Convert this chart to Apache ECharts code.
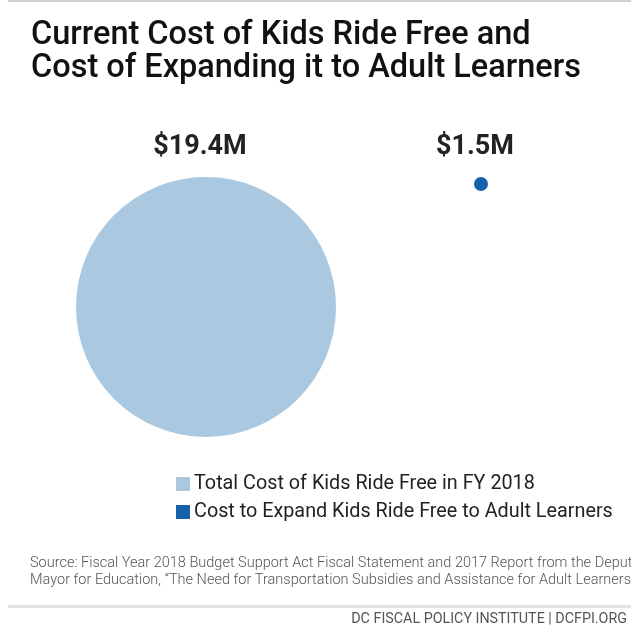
<!DOCTYPE html>
<html>
<head>
<meta charset="utf-8">
<script src="https://cdn.jsdelivr.net/npm/echarts@6/dist/echarts.min.js"></script>
<style>
html,body{margin:0;padding:0;background:#fff;}
#chart{width:631px;height:628px;}
</style>
</head>
<body>
<div id="chart"></div>
<script>
var titleLines = ["Current Cost of Kids Ride Free and", "Cost of Expanding it to Adult Learners"];
var categories = ["Total Cost of Kids Ride Free in FY 2018", "Cost to Expand Kids Ride Free to Adult Learners"];
var costs = [19.4, 1.5]; // $ millions
var sourceLines = [
  "Source: Fiscal Year 2018 Budget Support Act Fiscal Statement and 2017 Report from the Deputy",
  "Mayor for Education, \u201cThe Need for Transportation Subsidies and Assistance for Adult Learners\u201d"
];
var footerText = "DC FISCAL POLICY INSTITUTE | DCFPI.ORG";

var colors = ["#aac8e0", "#1662aa"];

var chart = echarts.init(document.getElementById('chart'), null, {renderer: 'canvas'});

function sizeOf(v) { return 13.74 * v - 6.6; }

var series = categories.map(function (name, i) {
  return {
    name: name,
    type: 'scatter',
    data: [[i, 0, costs[i]]],
    symbol: 'circle',
    symbolSize: function (val) { return sizeOf(val[2]); },
    symbolOffset: [0, '50%'],
    itemStyle: {color: colors[i], opacity: 1},
    label: {
      show: true,
      position: 'top',
      distance: 16,
      offset: [-6, 0],
      formatter: function (p) { return '$' + p.value[2] + 'M'; },
      fontFamily: 'Roboto',
      fontWeight: 'bold',
      fontSize: 27,
      color: '#222'
    },
    emphasis: {disabled: true},
    silent: true
  };
});

var option = {
  backgroundColor: '#fff',
  animation: false,
  title: {
    text: titleLines.join('\n'),
    left: 26,
    top: 15,
    textStyle: {
      fontFamily: 'Roboto',
      fontWeight: 500,
      fontSize: 32.5,
      lineHeight: 32.5,
      color: '#111'
    }
  },
  grid: {left: 68.5, width: 550, top: 177, height: 300},
  xAxis: {
    type: 'category',
    data: [0, 1],
    show: false
  },
  yAxis: {
    type: 'value',
    min: 0,
    max: 1,
    inverse: true,
    show: false
  },
  legend: {
    orient: 'vertical',
    left: 171,
    top: 469,
    itemWidth: 14,
    itemHeight: 14,
    itemGap: 8,
    icon: 'rect',
    data: categories,
    textStyle: {fontFamily: 'Roboto', fontSize: 19.8, color: '#222', padding: [0, 0, 0, -1]},
    selectedMode: false
  },
  series: series,
  graphic: [
    {type: 'rect', left: 8, top: 0, shape: {width: 623, height: 2}, style: {fill: '#d0d0d0'}},
    {type: 'text', left: 30, top: 556, style: {text: sourceLines[0], font: '300 14.5px Roboto', fill: '#555'}},
    {type: 'text', left: 30, top: 573, style: {text: sourceLines[1], font: '300 14.5px Roboto', fill: '#555'}},
    {type: 'rect', left: 8, top: 605, shape: {width: 623, height: 3}, style: {fill: '#e3e3e3'}},
    {type: 'text', right: 4, top: 612, style: {text: footerText, font: '14.3px Roboto', fill: '#555', textAlign: 'right'}}
  ]
};
chart.setOption(option);
</script>
</body>
</html>
